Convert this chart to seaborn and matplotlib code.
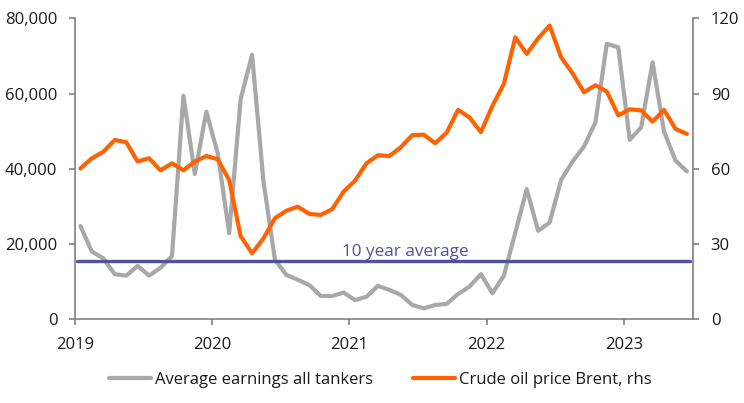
import matplotlib
matplotlib.use("Agg")
import matplotlib.pyplot as plt
from matplotlib.ticker import FuncFormatter
import numpy as np
import pandas as pd
import seaborn as sns

# monthly, Jan 2019 - Jun 2023
years = [2019, 2020, 2021, 2022, 2023]
tankers = [24800, 18000, 16200, 12000, 11600, 14200, 11600, 13700, 16800, 59400,
           38600, 55200, 44100, 22900, 58500, 70300, 36600, 15800,
           11800, 10500, 9100, 6200, 6200, 7100, 5100,
           6000, 8900, 7800, 6500, 3800, 2900, 3800, 4100, 6700,
           8700, 12000, 6900, 11600, 23000, 34600,
           23500, 25700, 37000, 41900, 45900, 52300, 73200, 72300, 47700, 51000,
           68300, 49900, 42200, 39300]
brent = [60.1, 64.2, 66.8, 71.5, 70.6, 62.9, 64.2, 59.4, 62.2, 59.4, 62.9, 65.1,
         63.8, 55.5, 33.2, 26.3, 32.3, 40.3,
         43.3, 44.9, 42.0, 41.6, 43.9, 50.9, 55.3, 62.2, 65.4, 65.1, 68.6, 73.4,
         73.6, 70.2, 74.4, 83.5, 80.5, 74.6,
         85.1, 93.8, 112.4, 105.8, 112.0, 117.1, 104.5, 98.1, 90.5, 93.3, 90.8,
         81.3, 83.7, 83.3, 78.8, 83.5, 75.9, 73.9]
ten_year_avg = 15550

GREY = '#a8a8a8'
ORANGE = '#ff6200'
INDIGO = '#525199'
AXIS = '#808080'
FS = 12

df = pd.DataFrame({'t': 2019 + (np.arange(len(tankers)) + 0.5) / 12,
                   'tankers': tankers, 'brent': brent})

sns.set_style('white')
plt.rcParams['font.family'] = ['Open Sans', 'DejaVu Sans']
plt.rcParams['font.size'] = FS
plt.rcParams['text.color'] = '#1a1a1a'

fig = plt.figure(figsize=(7.44, 4.03), dpi=100)
ax = fig.add_axes([0.1004, 0.2077, 0.8315, 0.7469])
ax2 = ax.twinx()

sns.lineplot(data=df, x='t', y='tankers', ax=ax, color=GREY, lw=3,
             label='Average earnings all tankers', legend=False)
ax.axhline(ten_year_avg, xmin=0.003, xmax=0.995, color=INDIGO, lw=2.4, zorder=3)
ax.text(2021.41, ten_year_avg + 1400, '10 year average', color=INDIGO,
        ha='center', va='baseline', fontsize=FS + 0.3)
sns.lineplot(data=df, x='t', y='brent', ax=ax2, color=ORANGE, lw=3,
             label='Crude oil price Brent, rhs', legend=False)

ax.set_xlim(2019, 2023.505)
ax.set_ylim(0, 80000)
ax2.set_ylim(0, 120)
ax.set_xticks(years)
ax.set_xticklabels([str(y) for y in years])
ax.set_yticks(range(0, 80001, 20000))
ax.yaxis.set_major_formatter(FuncFormatter(lambda v, p: f'{int(v):,}'))
ax2.set_yticks(range(0, 121, 30))
ax.set_xlabel('')
ax.set_ylabel('')
ax2.set_ylabel('')

for a in (ax, ax2):
    a.grid(False)
    a.spines['top'].set_visible(False)
    for s in ('left', 'right', 'bottom'):
        a.spines[s].set_color(AXIS)
        a.spines[s].set_linewidth(1.2)
    a.tick_params(length=4.5, width=1.2, color=AXIS, pad=8, labelsize=FS,
                  labelcolor='#1a1a1a')
ax.spines['right'].set_visible(False)
ax2.spines['left'].set_visible(False)
ax2.spines['bottom'].set_visible(False)
ax.tick_params(axis='y', left=True)
ax.tick_params(axis='x', bottom=True)
ax2.tick_params(axis='y', right=True)

h1, l1 = ax.get_legend_handles_labels()
h2, l2 = ax2.get_legend_handles_labels()
fig.legend(h1 + h2, l1 + l2, loc='center', bbox_to_anchor=(0.511, 0.058),
           ncol=2, frameon=False, handlelength=2.5, handletextpad=0.25,
           columnspacing=2.4, fontsize=FS)

fig.savefig('out.png', dpi=100)
